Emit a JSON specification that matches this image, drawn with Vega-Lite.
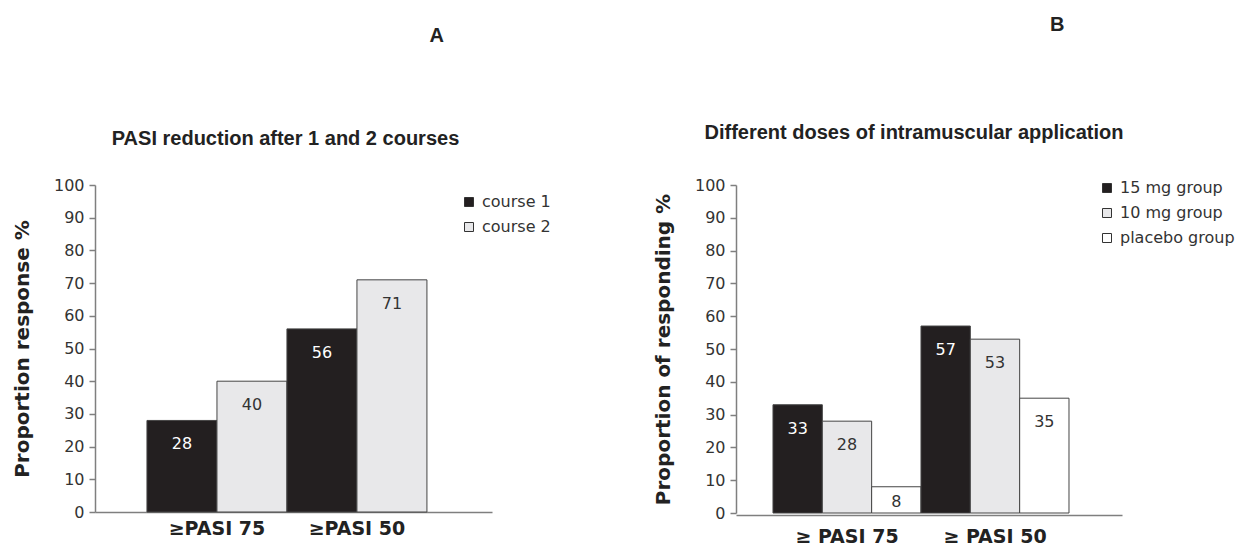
{
  "$schema": "https://vega.github.io/schema/vega-lite/v6.json",
  "background": "white",
  "padding": {"left": 12, "top": 14, "right": 0, "bottom": 0},
  "spacing": 102,
  "resolve": {"scale": {"x": "independent", "xOffset": "independent", "fill": "independent", "y": "independent"}, "legend": {"fill": "independent"}, "axis": {"x": "independent", "y": "independent"}},
  "hconcat": [
    {
      "title": {"text": ["", "A"], "lineHeight": 12, "baseline": "bottom", "anchor": "middle", "frame": "bounds", "dx": 155, "offset": 63, "font": "Liberation Sans", "fontSize": 20, "fontWeight": "bold", "color": "#222222"},
      "vconcat": [
        {
          "title": {"text": "PASI reduction after 1 and 2 courses", "baseline": "alphabetic", "anchor": "middle", "frame": "group", "dx": -8, "offset": 12, "font": "Liberation Sans", "fontSize": 20, "fontWeight": "bold", "color": "#222222"},
          "width": 397,
          "height": 327,
          "data": {"values": [
            {"measure": "≥PASI 75", "series": "course 1", "value": 28},
            {"measure": "≥PASI 75", "series": "course 2", "value": 40},
            {"measure": "≥PASI 50", "series": "course 1", "value": 56},
            {"measure": "≥PASI 50", "series": "course 2", "value": 71}
          ]},
          "encoding": {
            "x": {"field": "measure", "type": "nominal", "sort": null,
                  "scale": {"paddingInner": 0, "paddingOuter": 0.418, "align": 0.444},
                  "axis": {"title": null, "labelAngle": 0, "ticks": false, "tickSize": 0, "labelPadding": 7, "labelFont": "DejaVu Sans", "labelFontWeight": "bold", "labelFontSize": 19, "labelColor": "#222222"}},
            "xOffset": {"field": "series", "type": "nominal", "sort": null, "scale": {"paddingInner": 0, "paddingOuter": 0}},
            "y": {"field": "value", "type": "quantitative", "scale": {"domain": [0, 100]},
                  "axis": {"title": "Proportion response %", "values": [0, 10, 20, 30, 40, 50, 60, 70, 80, 90, 100], "titlePadding": 21}}
          },
          "layer": [
            {
              "mark": {"type": "bar", "stroke": "#444444", "strokeWidth": 1},
              "encoding": {
                "fill": {"field": "series", "type": "nominal", "sort": null,
                         "scale": {"domain": ["course 1", "course 2"], "range": ["#231f20", "#e8e8ea"]},
                         "legend": {"orient": "none", "legendX": 366, "legendY": 9, "title": null}}
              }
            },
            {
              "transform": [{"filter": "datum.value >= 10"}],
              "mark": {"type": "text", "dy": 24, "baseline": "middle", "font": "DejaVu Sans", "fontSize": 16},
              "encoding": {
                "text": {"field": "value", "type": "quantitative"},
                "color": {"condition": {"test": "datum.series === 'course 1'", "value": "#ffffff"}, "value": "#333333"}
              }
            }
          ]
        }
      ]
    },
    {
      "title": {"text": "B", "baseline": "bottom", "anchor": "middle", "frame": "bounds", "dx": 113, "offset": 68, "font": "Liberation Sans", "fontSize": 20, "fontWeight": "bold", "color": "#222222"},
      "vconcat": [
        {
          "title": {"text": "Different doses of intramuscular application", "baseline": "alphabetic", "anchor": "middle", "frame": "group", "dx": -15, "offset": 18, "font": "Liberation Sans", "fontSize": 20, "fontWeight": "bold", "color": "#222222"},
          "width": 386,
          "height": 328,
          "data": {"values": [
            {"measure": "≥ PASI 75", "series": "15 mg group", "value": 33},
            {"measure": "≥ PASI 75", "series": "10 mg group", "value": 28},
            {"measure": "≥ PASI 75", "series": "placebo group", "value": 8},
            {"measure": "≥ PASI 50", "series": "15 mg group", "value": 57},
            {"measure": "≥ PASI 50", "series": "10 mg group", "value": 53},
            {"measure": "≥ PASI 50", "series": "placebo group", "value": 35}
          ]},
          "encoding": {
            "x": {"field": "measure", "type": "nominal", "sort": null,
                  "scale": {"paddingInner": 0, "paddingOuter": 0.304, "align": 0.411},
                  "axis": {"title": null, "labelAngle": 0, "ticks": false, "tickSize": 0, "labelPadding": 12, "offset": 2, "labelFont": "DejaVu Sans", "labelFontWeight": "bold", "labelFontSize": 19, "labelColor": "#222222"}},
            "xOffset": {"field": "series", "type": "nominal", "sort": null, "scale": {"paddingInner": 0, "paddingOuter": 0}},
            "y": {"field": "value", "type": "quantitative", "scale": {"domain": [0, 100]},
                  "axis": {"title": "Proportion of responding %", "values": [0, 10, 20, 30, 40, 50, 60, 70, 80, 90, 100], "titlePadding": 21}}
          },
          "layer": [
            {
              "mark": {"type": "bar", "stroke": "#444444", "strokeWidth": 1},
              "encoding": {
                "fill": {"field": "series", "type": "nominal", "sort": null,
                         "scale": {"domain": ["15 mg group", "10 mg group", "placebo group"], "range": ["#231f20", "#e8e8ea", "#ffffff"]},
                         "legend": {"orient": "none", "legendX": 363, "legendY": -5, "title": null,
                                    "encode": {"symbols": {"update": {
                                      "fill": [
                                        {"test": "datum.value === '15 mg group'", "value": "#231f20"},
                                        {"test": "datum.value === '10 mg group'", "value": "#a8a8a8"},
                                        {"value": "#ffffff"}
                                      ],
                                      "stroke": {"value": "#333333"},
                                      "strokeWidth": {"value": 1}
                                    }}}}}
              }
            },
            {
              "transform": [{"filter": "datum.value >= 10"}],
              "mark": {"type": "text", "dy": 24, "baseline": "middle", "font": "DejaVu Sans", "fontSize": 16},
              "encoding": {
                "text": {"field": "value", "type": "quantitative"},
                "color": {"condition": {"test": "datum.series === '15 mg group'", "value": "#ffffff"}, "value": "#333333"}
              }
            },
            {
              "transform": [{"filter": "datum.value < 10"}],
              "mark": {"type": "text", "dy": 15, "baseline": "middle", "font": "DejaVu Sans", "fontSize": 16, "color": "#333333"},
              "encoding": {
                "text": {"field": "value", "type": "quantitative"}
              }
            }
          ]
        }
      ]
    }
  ],
  "config": {
    "view": {"stroke": null},
    "axis": {
      "domainColor": "#7f7f7f",
      "domainWidth": 1.5,
      "tickColor": "#7f7f7f",
      "tickWidth": 1.5,
      "grid": false
    },
    "axisY": {
      "tickSize": 6,
      "labelPadding": 5,
      "labelFont": "DejaVu Sans",
      "labelFontSize": 16,
      "labelColor": "#333333",
      "titleFont": "DejaVu Sans",
      "titleFontSize": 20,
      "titleFontWeight": "bold",
      "titleColor": "#222222"
    },
    "legend": {
      "symbolType": "square",
      "symbolSize": 81,
      "symbolStrokeColor": "#333333",
      "symbolStrokeWidth": 1,
      "labelFont": "DejaVu Sans",
      "labelFontSize": 16,
      "labelColor": "#333333",
      "rowPadding": 9,
      "labelOffset": 5
    }
  }
}
